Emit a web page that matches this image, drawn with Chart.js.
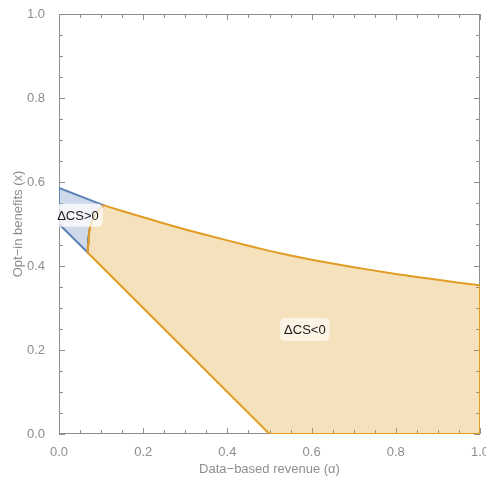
<!DOCTYPE html>
<html>
<head>
<meta charset="utf-8">
<script src="https://cdn.jsdelivr.net/npm/chart.js@4.4.1/dist/chart.umd.min.js"></script>
<style>
  html, body { margin: 0; padding: 0; background: #fff; }
  #wrap { width: 486px; height: 479px; }
</style>
</head>
<body>
<div id="wrap"><canvas id="canvas"></canvas></div>
<script>
// region ΔCS>0 (blue), closed outline
var blueX = [0, 0.105, 0.094, 0.0855, 0.079, 0.0753, 0.072, 0.0705, 0.069, 0.068, 0, 0];
var blueY = [0.586, 0.545, 0.533, 0.521, 0.509, 0.498, 0.484, 0.470, 0.452, 0.432, 0.5, 0.586];

// region ΔCS<0 (orange): top curve, right edge, bottom, diagonal, left curve back up
var orangeX = [0.105, 0.15, 0.2, 0.25, 0.3, 0.35, 0.4, 0.45, 0.5, 0.55, 0.6, 0.65, 0.7, 0.75, 0.8, 0.85, 0.9, 0.95, 1.0,
               1.0, 0.5, 0.068, 0.069, 0.0705, 0.072, 0.0753, 0.079, 0.0855, 0.094, 0.105];
var orangeY = [0.545, 0.531, 0.516, 0.501, 0.487, 0.474, 0.461, 0.448, 0.436, 0.425, 0.415, 0.406, 0.397, 0.389, 0.381, 0.374, 0.367, 0.360, 0.354,
               0, 0, 0.432, 0.452, 0.470, 0.484, 0.498, 0.509, 0.521, 0.533, 0.545];

var majorTicks = [0, 0.2, 0.4, 0.6, 0.8, 1.0];
var minorTicks = [0.05, 0.1, 0.15, 0.25, 0.3, 0.35, 0.45, 0.5, 0.55, 0.65, 0.7, 0.75, 0.85, 0.9, 0.95];

var labelText = ['ΔCS>0', 'ΔCS<0'];
var labelX = [0.045, 0.584];
var labelY = [0.521, 0.249];
var labelBg = ['rgba(255,255,255,0.75)', 'rgba(255,255,255,0.6)'];

function toPoints(xs, ys) {
    return xs.map(function (x, i) { return {x: x, y: ys[i]}; });
}

var gray = '#8e8e8e';
var font = "'Liberation Sans', Arial, sans-serif";

// frame with inward major/minor ticks on all four sides
var frameTicks = {
    id: 'frameTicks',
    beforeDatasetsDraw: function (chart) {
        var ctx = chart.ctx, a = chart.chartArea;
        var xs = chart.scales.x, ys = chart.scales.y;
        ctx.save();
        ctx.strokeStyle = gray;
        ctx.lineWidth = 1;
        ctx.strokeRect(Math.round(a.left) + 0.5, Math.round(a.top) + 0.5,
                       Math.round(a.right - a.left) - 1, Math.round(a.bottom - a.top) - 1);
        function tick(v, len) {
            var px = Math.round(xs.getPixelForValue(v)) + 0.5;
            var py = Math.round(ys.getPixelForValue(v)) + 0.5;
            ctx.beginPath();
            ctx.moveTo(px, a.bottom); ctx.lineTo(px, a.bottom - len);
            ctx.moveTo(px, a.top); ctx.lineTo(px, a.top + len);
            ctx.moveTo(a.left, py); ctx.lineTo(a.left + len, py);
            ctx.moveTo(a.right, py); ctx.lineTo(a.right - len, py);
            ctx.stroke();
        }
        majorTicks.forEach(function (v) { tick(v, 6); });
        minorTicks.forEach(function (v) { tick(v, 4); });
        ctx.restore();
    }
};

// region labels with rounded backgrounds
var regionLabels = {
    id: 'regionLabels',
    afterDatasetsDraw: function (chart) {
        var ctx = chart.ctx;
        var xs = chart.scales.x, ys = chart.scales.y;
        ctx.save();
        ctx.font = '13px ' + font;
        ctx.textAlign = 'center';
        ctx.textBaseline = 'middle';
        labelText.forEach(function (t, i) {
            var px = xs.getPixelForValue(labelX[i]);
            var py = ys.getPixelForValue(labelY[i]);
            var w = ctx.measureText(t).width + 8;
            var h = 23;
            ctx.fillStyle = labelBg[i];
            ctx.beginPath();
            ctx.roundRect(px - w / 2, py - h / 2, w, h, 5);
            ctx.fill();
            ctx.fillStyle = '#1a1a1a';
            ctx.fillText(t, px, py + 1);
        });
        ctx.restore();
    }
};

var ctx = document.getElementById('canvas').getContext('2d');
var myChart = new Chart(ctx, {
    type: 'scatter',
    data: {
        datasets: [{
            label: 'ΔCS<0',
            data: toPoints(orangeX, orangeY),
            showLine: true,
            borderColor: 'rgb(225,156,36)',
            backgroundColor: 'rgba(225,156,36,0.3)',
            borderWidth: 2,
            pointRadius: 0,
            tension: 0,
            fill: 'shape',
            clip: 0
        }, {
            label: 'ΔCS>0',
            data: toPoints(blueX, blueY),
            showLine: true,
            borderColor: 'rgb(94,129,181)',
            backgroundColor: 'rgba(94,129,181,0.3)',
            borderWidth: 2,
            pointRadius: 0,
            tension: 0,
            fill: 'shape',
            clip: 0
        }]
    },
    options: {
        responsive: true,
        maintainAspectRatio: false,
        animation: false,
        layout: { padding: { top: 14, right: 6, left: 0, bottom: 0 } },
        plugins: {
            legend: { display: false },
            tooltip: { enabled: false }
        },
        scales: {
            x: {
                type: 'linear',
                min: 0,
                max: 1,
                grid: { display: false },
                border: { display: false },
                ticks: {
                    stepSize: 0.2,
                    padding: 3,
                    color: gray,
                    font: { family: font, size: 13 },
                    maxRotation: 0,
                    callback: function (v) { return v.toFixed(1); }
                },
                title: {
                    display: true,
                    text: 'Data−based revenue (α)',
                    color: gray,
                    font: { family: font, size: 13 },
                    padding: { top: 0, bottom: 2 }
                },
                afterFit: function (s) {
                    s.height = 45;
                    s.paddingLeft = 0;
                    s.paddingRight = 0;
                }
            },
            y: {
                type: 'linear',
                min: 0,
                max: 1,
                grid: { display: false },
                border: { display: false },
                ticks: {
                    stepSize: 0.2,
                    padding: 6,
                    color: gray,
                    font: { family: font, size: 13 },
                    callback: function (v) { return v.toFixed(1); }
                },
                title: {
                    display: true,
                    text: 'Opt−in benefits (x)',
                    color: gray,
                    font: { family: font, size: 13 },
                    padding: { top: 11, bottom: 0 }
                },
                afterFit: function (s) {
                    s.width = 59;
                    s.paddingTop = 0;
                    s.paddingBottom = 0;
                }
            }
        }
    },
    plugins: [frameTicks, regionLabels]
});
</script>
</body>
</html>
